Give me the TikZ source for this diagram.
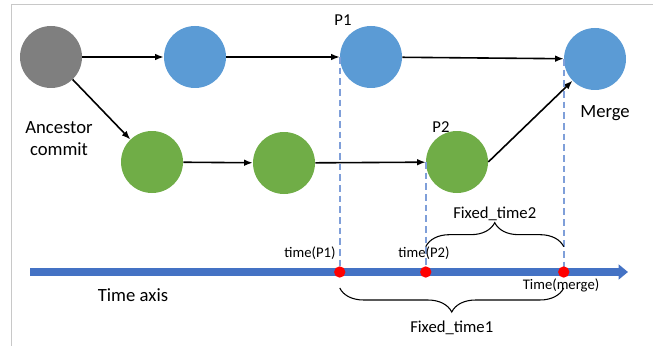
\documentclass[tikz,border=0pt]{standalone}
\usepackage{fontspec}
\setmainfont{Carlito}
\usepackage{xcolor}
\usetikzlibrary{positioning,arrows.meta,decorations.pathreplacing}
\definecolor{commitblue}{HTML}{5B9BD5}
\definecolor{commitgreen}{HTML}{70AD47}
\definecolor{ancgray}{HTML}{7F7F7F}
\definecolor{axisblue}{HTML}{4472C4}
\definecolor{dashblue}{HTML}{7F9FD9}
\definecolor{framegray}{HTML}{C8C8C8}

\begin{document}
\begin{tikzpicture}[x=0.75pt,y=-0.75pt,>={Latex[length=6.5pt,width=5pt]},
  commit/.style={circle,minimum size=46.5pt,inner sep=0pt},
  arrow/.style={->,line width=1.2pt},
  dot/.style={circle,fill=red,minimum size=8.5pt,inner sep=0pt},
  guide/.style={draw=dashblue,line width=1.4pt,dash pattern=on 5pt off 3pt},
  brace/.style={decorate,decoration={brace,amplitude=18pt},line width=0.8pt},
  lbl/.style={font=\fontsize{14}{16.5}\selectfont,align=center},
  plbl/.style={font=\fontsize{12.5}{15}\selectfont},
  small/.style={font=\fontsize{11}{13}\selectfont}]
\useasboundingbox (0,0) rectangle (653,346);
\draw[framegray,line width=0.75pt] (11,346) -- (11,5) -- (653,5);
% commits
\node[commit,fill=ancgray] (anc) at (51,57) {};
\node[commit,fill=commitblue] (b1) at (195,57) {};
\node[commit,fill=commitblue] (p1) at (371,57) {};
\node[commit,fill=commitblue] (merge) at (595,59) {};
\node[commit,fill=commitgreen] (g1) at (152,162) {};
\node[commit,fill=commitgreen] (g2) at (284,163) {};
\node[commit,fill=commitgreen] (p2) at (457,162) {};
\node[lbl] (anclbl) at (59,139) {Ancestor\\commit};
\node[plbl] (p1lbl) at (343,20) {P1};
\node[plbl] (p2lbl) at (441,127) {P2};
\node[lbl] (mergelbl) at (605,113) {Merge};
\draw[arrow] (anc) -- (b1);
\draw[arrow] (b1) -- (p1);
\draw[arrow] (p1) -- (merge);
\draw[arrow] (anc) -- (g1);
\draw[arrow] (g1) -- (g2);
\draw[arrow] (g2) -- (p2);
\draw[arrow] (p2.east) -- (merge);
% time axis
\coordinate (ax0) at (30,272);
\coordinate (ax1) at (628,272);
\draw[guide] (p1.west) -- (p1.west |- ax0);
\draw[guide] (p2.west) -- (p2.west |- ax0);
\draw[guide] (merge.west) -- (merge.west |- ax0);
\draw[axisblue,line width=6pt,-{Triangle[length=7pt,width=11pt]}] (ax0) -- (ax1);
\node[dot] (t1) at (p1.west |- ax0) {};
\node[dot] (t2) at (p2.west |- ax0) {};
\node[dot] (tm) at (merge.west |- ax0) {};
\node[small] (tp1) at (310,253) {time(P1)};
\node[small] (tp2) at (424,253) {time(P2)};
\node[small] (tmerge) at (561,285) {Time(merge)};
\node[lbl] (axlbl) at (133,295) {Time axis};
% fixed times
\draw[brace] ([yshift=19pt]t2.center) -- ([yshift=19pt]tm.center)
  node[midway,yshift=25pt,plbl] (ft2) {Fixed\_time2};
\draw[brace] ([yshift=-12pt]tm.center) -- ([yshift=-12pt]t1.center)
  node[midway,yshift=-30pt,plbl] (ft1) {Fixed\_time1};
\end{tikzpicture}
\end{document}
